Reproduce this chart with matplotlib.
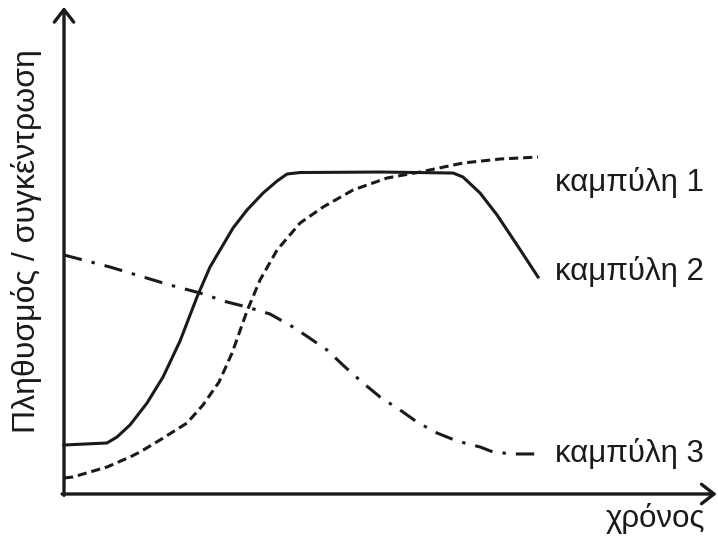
import matplotlib
matplotlib.use("Agg")
import matplotlib.pyplot as plt

plt.rcParams['font.family'] = ['Liberation Sans', 'DejaVu Sans']

# curve 2 (solid)
t_solid = [0, 6.62, 8.15, 10.15, 12.77, 15.23, 17.85, 20.46, 22.46, 24.0, 26.0,
           28.15, 30.62, 32.77, 34.31, 36.31, 48.62, 59.85, 61.38, 64.0, 66.62,
           69.69, 72.92]
c_solid = [10.65, 11.09, 12.39, 15.0, 19.78, 25.43, 33.26, 42.83, 49.35, 53.04,
           57.83, 61.74, 65.43, 68.04, 69.57, 69.89, 70.0, 69.78, 68.91, 65.43,
           60.65, 54.13, 47.17]

# curve 1 (dotted)
t_dot = [0, 1.38, 6.62, 10.15, 11.69, 14.77, 18.92, 21.38, 23.85, 25.85, 28.15,
         30.15, 32.77, 36.31, 39.85, 44.46, 49.69, 54.77, 61.38, 67.08, 72.92]
c_dot = [3.48, 3.70, 5.87, 8.04, 9.13, 11.74, 15.43, 19.35, 24.35, 30.65, 39.78,
         46.52, 53.04, 58.91, 62.39, 66.09, 68.70, 70.0, 71.96, 72.83, 73.26]

# curve 3 (dash-dot)
t_dd = [0, 7.08, 11.69, 16.31, 20.92, 25.08, 28.15, 31.69, 35.23, 37.54, 40.46,
        43.23, 46.0, 48.62, 51.69, 54.31, 57.38, 60.46, 64.0, 66.0, 69.08, 72.46]
c_dd = [51.96, 49.35, 47.39, 45.43, 43.70, 41.74, 40.65, 39.13, 36.30, 34.13,
        31.30, 27.61, 24.13, 21.09, 18.26, 15.65, 13.26, 11.52, 10.22, 9.13,
        8.70, 8.70]

labels = ['καμπύλη 1', 'καμπύλη 2', 'καμπύλη 3']
label_y = [65.9, 46.5, 7.0]

fig = plt.figure(figsize=(7.18, 5.37), dpi=100)
ax = fig.add_axes([0, 0, 1, 1])
ax.set_xlim(-9.846, 100.6)
ax.set_ylim(-9.35, 107.4)
ax.axis('off')

lw = 2.2
ink = '#1a1a1a'
ax.plot(t_solid, c_solid, color=ink, lw=lw, solid_joinstyle='round')
ax.plot(t_dot, c_dot, color=ink, lw=lw, linestyle=(0, (3, 1.6)))
ax.plot(t_dd, c_dd, color=ink, lw=lw, linestyle=(0, (6.0, 3.3, 1.1, 3.3)))

arrow = dict(arrowstyle='->,head_length=0.45,head_width=0.35', lw=2.4,
             color=ink, shrinkA=0, shrinkB=0, mutation_scale=20)
ax.annotate('', xy=(0, 105.9), xytext=(0, -0.3), arrowprops=arrow)
ax.annotate('', xy=(100.4, 0), xytext=(-0.3, 0), arrowprops=arrow)

for lab, y in zip(labels, label_y):
    ax.text(75.5, y, lab, fontsize=22.5, va='baseline', ha='left', color=ink)

ax.text(91.0, -7.17, 'χρόνος', fontsize=22.5, ha='center', va='baseline', color=ink)
ax.text(-5.7, 55.0, 'Πληθυσμός / συγκέντρωση', fontsize=23, rotation=90,
        ha='center', va='center', color=ink)

fig.savefig('out.png', dpi=100)
